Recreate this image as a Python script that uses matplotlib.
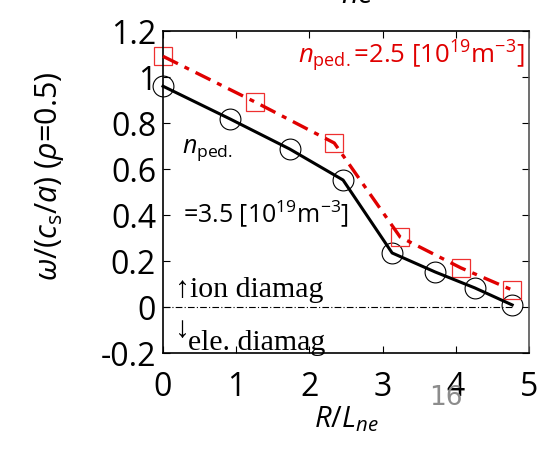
import matplotlib
matplotlib.use('Agg')
import matplotlib.pyplot as plt

plt.rcParams['font.family'] = ['Open Sans', 'DejaVu Sans']
plt.rcParams['mathtext.fontset'] = 'custom'
plt.rcParams['mathtext.rm'] = 'Open Sans'
plt.rcParams['mathtext.it'] = 'Open Sans:italic'
plt.rcParams['mathtext.bf'] = 'Open Sans:bold'

# n_ped = 3.5 (black circles)
rln_35 = [0.0, 0.92, 1.73, 2.46, 3.13, 3.72, 4.26, 4.77]
omega_35 = [0.96, 0.817, 0.687, 0.552, 0.235, 0.152, 0.083, 0.009]
# n_ped = 2.5 (red squares)
rln_25 = [0.0, 1.26, 2.34, 3.24, 4.07, 4.77]
omega_25 = [1.09, 0.891, 0.713, 0.304, 0.17, 0.074]

xticks = [0, 1, 2, 3, 4, 5]
yticks = [-0.2, 0, 0.2, 0.4, 0.6, 0.8, 1, 1.2]
ytick_labels = ['-0.2', '0', '0.2', '0.4', '0.6', '0.8', '1', '1.2']

fig = plt.figure(figsize=(5.5, 4.51), dpi=100)
ax = fig.add_axes([163/550, 1-353/451, 366/550, 322/451])

# zero line
ax.plot([0, 4.8], [0, 0], color='black', lw=0.8, dashes=(6, 2, 1, 2))

ax.plot(rln_35, omega_35, color='black', lw=2.2, zorder=3, clip_on=False)
ax.plot(rln_35, omega_35, 'o', ms=15, mfc='none', mec='black', mew=0.8, zorder=2, clip_on=False)
ax.plot(rln_25, omega_25, color='#e00000', lw=2.4, dashes=(5, 2.2, 1.5, 2.2), zorder=3, clip_on=False)
ax.plot(rln_25, omega_25, 's', ms=13.5, mfc='none', mec='#ee3030', mew=0.9, zorder=2, clip_on=False)

ax.set_xlim(0, 5)
ax.set_ylim(-0.2, 1.2)
ax.set_xticks(xticks)
ax.set_yticks(yticks)
ax.set_yticklabels(ytick_labels)
ax.tick_params(direction='in', length=5, width=0.8, top=True, right=True,
               labelsize=23)
ax.tick_params(axis='y', pad=5)
ax.tick_params(axis='x', pad=13)
for s in ax.spines.values():
    s.set_linewidth(1.2)
ax.spines['right'].set_color('#555555')

ax.text(1.84, 1.061, r'$n_{\rm ped.}$=2.5 [10$^{19}$m$^{-3}$]', color='#e00000',
        fontsize=18.5, va='baseline')
ax.text(0.26, 0.67, r'$n_{\rm ped.}$', color='black', fontsize=18, va='baseline')
ax.text(0.27, 0.37, r'=3.5 [10$^{19}$m$^{-3}$]', color='black', fontsize=18, va='baseline')

serif = ['Liberation Serif', 'DejaVu Serif']
ax.text(0.16, 0.043, '\u2191ion diamag', family=serif, fontsize=21.5, va='baseline')
ax.text(0.16, -0.13, '\u2193', family=serif, fontsize=21.5, va='baseline')
ax.text(0.34, -0.187, 'ele. diamag', family=serif, fontsize=21.5, va='baseline')

ax.set_xlabel(r'$R/L_{ne}$', fontsize=21, labelpad=0)
fig.text(50/550, 1-176/451, r'$\omega$/($c_{\rm s}$/$a$) ($\rho$=0.5)',
         rotation=90, fontsize=22, ha='center', va='center')

fig.text(446/550, 1-398/451, '16', color='#8c8c8c', fontsize=19,
         family=['Liberation Sans Narrow', 'DejaVu Sans'], ha='center', va='center')
fig.text(357/550, 1-3/451, r'$ne$', fontsize=21, ha='center', va='baseline')

fig.savefig('out.png', dpi=100)
